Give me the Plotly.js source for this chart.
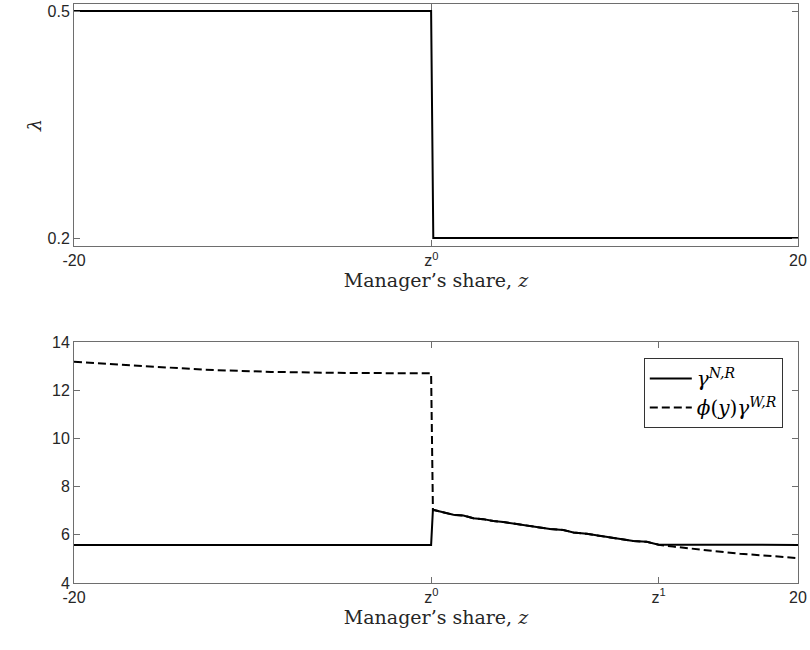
<!DOCTYPE html>
<html>
<head>
<meta charset="utf-8">
<script src="https://cdn.plot.ly/plotly-3.0.1.min.js"></script>
<style>html,body{margin:0;padding:0;background:#fff;}#chart{width:810px;height:650px;}</style>
</head>
<body>
<div id="chart"></div>
<script>
// ---- data ----
const z0 = -0.25;
const z1 = 12.3;

// top panel: lambda
const lambdaZ = [-20, -0.27, -0.15, 20];
const lambdaVal = [0.5, 0.5, 0.2, 0.2];

// bottom panel: gamma^{N,R}
const gammaNZ = [-20, -0.27, -0.17, 0.22, 0.96, 1.51, 2.06, 2.61, 3.17, 3.72, 4.45, 5.01, 5.75, 6.30, 7.03, 7.59, 8.33, 9.06, 9.61, 10.35, 10.90, 11.64, 12.3, 20];
const gammaNVal = [5.58, 5.58, 7.04, 6.97, 6.83, 6.80, 6.69, 6.65, 6.57, 6.53, 6.44, 6.38, 6.31, 6.24, 6.20, 6.10, 6.04, 5.96, 5.89, 5.83, 5.74, 5.71, 5.59, 5.58];

// bottom panel: phi(y) gamma^{W,R}
const gammaWZ = [-20, -16.5, -12.8, -9.1, -5.4, -0.7, -0.27, -0.17, 0.22, 0.96, 1.51, 2.06, 2.61, 3.17, 3.72, 4.45, 5.01, 5.75, 6.30, 7.03, 7.59, 8.33, 9.06, 9.61, 10.35, 10.90, 11.64, 12.3, 13.1, 14.96, 16.8, 18.6, 20];
const gammaWVal = [13.18, 13.01, 12.85, 12.76, 12.72, 12.70, 12.70, 7.04, 6.97, 6.83, 6.80, 6.69, 6.65, 6.57, 6.53, 6.44, 6.38, 6.31, 6.24, 6.20, 6.10, 6.04, 5.96, 5.89, 5.83, 5.74, 5.71, 5.59, 5.51, 5.35, 5.21, 5.12, 5.03];

const topTickVals = [-20, z0, 20];
const topTickText = ['-20', 'z<sup>0</sup>', '20'];
const botTickVals = [-20, z0, z1, 20];
const botTickText = ['-20', 'z<sup>0</sup>', 'z<sup>1</sup>', '20'];
const lambdaTicks = [0.2, 0.5];
const gammaTicks = [4, 6, 8, 10, 12, 14];

// ---- styles ----
const axColor = '#6e6e6e';
const tickFont = {family: 'Liberation Sans', size: 16, color: '#262626'};
const serif = 'DejaVu Serif';
const xTitle = {text: 'Manager\u2019s share, <i>z</i>', font: {family: serif, size: 19, color: '#262626'}, standoff: 1};

function axisBase() {
  return {
    showline: true, linecolor: axColor, linewidth: 1, mirror: 'ticks',
    ticks: 'inside', ticklen: 6, tickcolor: axColor, tickwidth: 1,
    showgrid: false, zeroline: false, tickfont: tickFont
  };
}

const traces = [
  {x: lambdaZ, y: lambdaVal, xaxis: 'x', yaxis: 'y', mode: 'lines',
   line: {color: '#000', width: 2}, showlegend: false, hoverinfo: 'skip'},
  {x: gammaWZ, y: gammaWVal, xaxis: 'x2', yaxis: 'y2', mode: 'lines',
   line: {color: '#000', width: 2, dash: '8px,4px'},
   name: '<i>\u03d5</i>(<i>y</i>)<i>\u03b3</i><sup><i>W,R</i></sup>', legendrank: 2},
  {x: gammaNZ, y: gammaNVal, xaxis: 'x2', yaxis: 'y2', mode: 'lines',
   line: {color: '#000', width: 2},
   name: '<i>\u03b3</i><sup><i>N,R</i></sup>', legendrank: 1}
];

const layout = {
  width: 810, height: 650,
  margin: {l: 74, r: 12, t: 4, b: 67},
  paper_bgcolor: '#fff', plot_bgcolor: '#fff',
  showlegend: true,
  legend: {
    x: 0.979, xanchor: 'right', y: 0.3886, yanchor: 'top',
    bgcolor: '#fff', bordercolor: '#333', borderwidth: 1,
    font: {family: serif, size: 20, color: '#000'},
    itemwidth: 42,
    traceorder: 'normal', tracegroupgap: 0
  },
  xaxis: Object.assign(axisBase(), {
    anchor: 'y', domain: [0, 1], range: [-20, 20],
    tickmode: 'array', tickvals: topTickVals, ticktext: topTickText,
    title: xTitle
  }),
  yaxis: Object.assign(axisBase(), {
    anchor: 'x', domain: [0.582, 1], range: [0.1894, 0.5093],
    tickmode: 'array', tickvals: lambdaTicks, ticktext: ['0.2', '0.5'],
    title: {text: '<i>\u03bb</i>', font: {family: serif, size: 19, color: '#262626'}, standoff: 0}
  }),
  xaxis2: Object.assign(axisBase(), {
    anchor: 'y2', domain: [0, 1], range: [-20, 20],
    tickmode: 'array', tickvals: botTickVals, ticktext: botTickText,
    title: xTitle
  }),
  yaxis2: Object.assign(axisBase(), {
    anchor: 'x2', domain: [0, 0.4162], range: [4, 14],
    tickmode: 'array', tickvals: gammaTicks
  })
};

Plotly.newPlot('chart', traces, layout, {displayModeBar: false, staticPlot: true});
</script>
</body>
</html>
